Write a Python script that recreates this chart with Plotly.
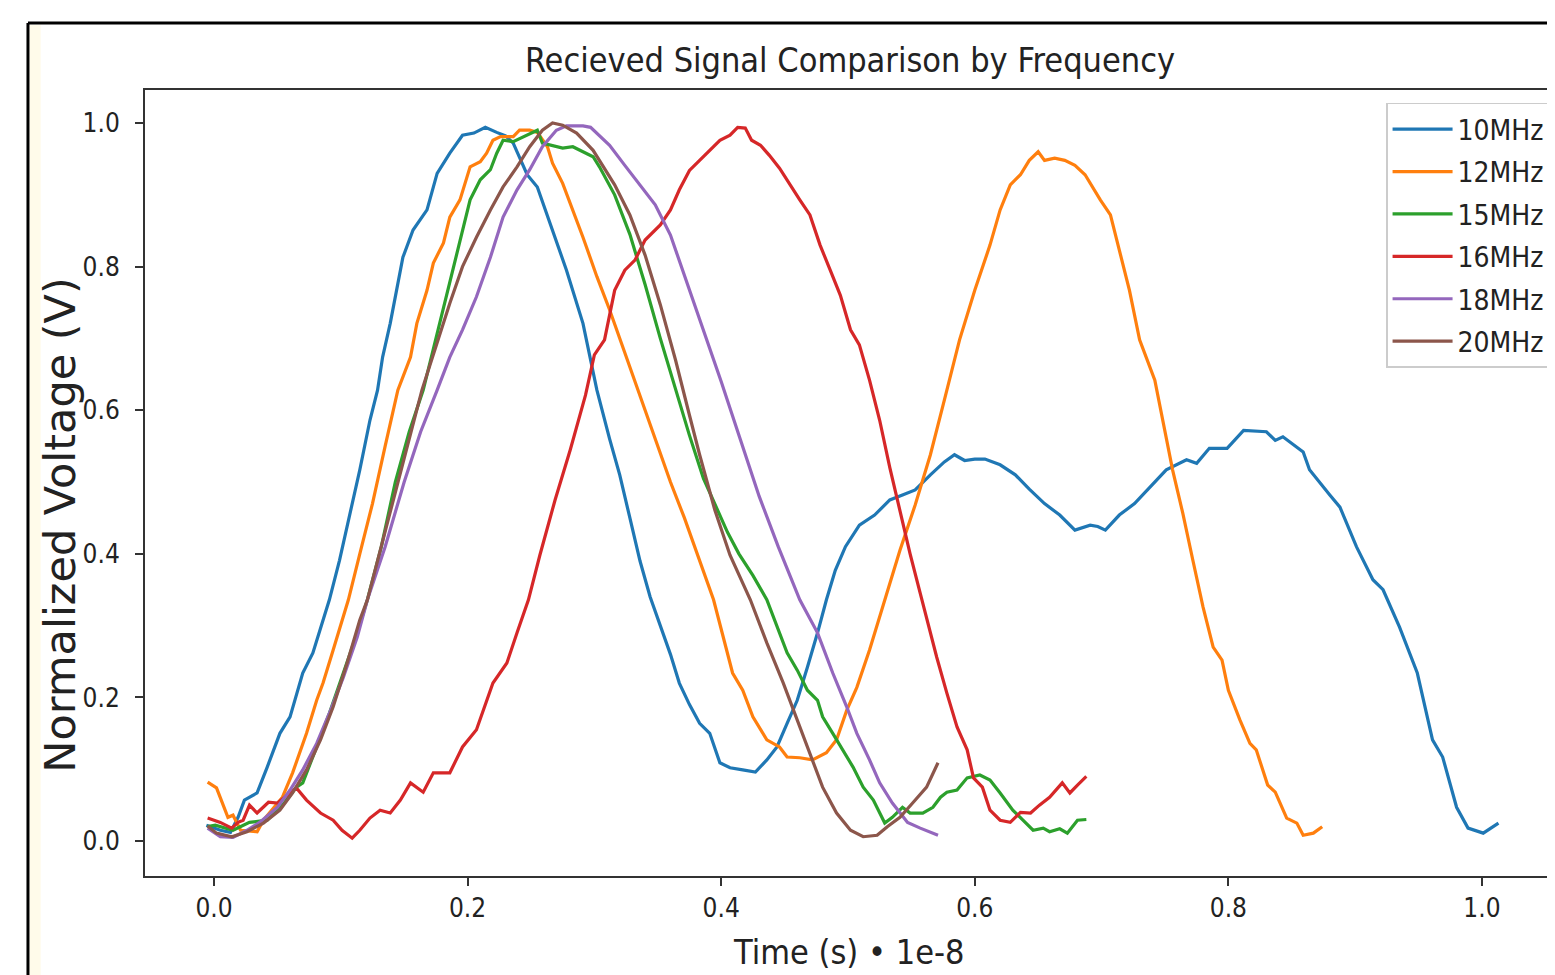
import plotly.graph_objects as go

# Time axis is in units of 1e-8 s, voltage normalised to the peak.
NAMES = ["10MHz", "12MHz", "15MHz", "16MHz", "18MHz", "20MHz"]
COLORS = ["#1f77b4", "#ff7f0e", "#2ca02c", "#d62728", "#9467bd", "#8c564b"]

T_10 = [-0.006, 0.005, 0.013, 0.019, 0.024, 0.034, 0.042, 0.052, 0.060, 0.070,
        0.078, 0.086, 0.091, 0.099, 0.107, 0.115, 0.123, 0.129, 0.133, 0.139,
        0.149, 0.157, 0.168, 0.176, 0.186, 0.196, 0.205, 0.214, 0.223, 0.230,
        0.236, 0.247, 0.255, 0.265, 0.278, 0.291, 0.302, 0.312, 0.320, 0.328,
        0.336, 0.344, 0.352, 0.360, 0.367, 0.375, 0.383, 0.391, 0.399, 0.407,
        0.417, 0.427, 0.436, 0.444, 0.452, 0.460, 0.468, 0.476, 0.483, 0.490,
        0.498, 0.509, 0.521, 0.533, 0.543, 0.553, 0.565, 0.576, 0.584, 0.592,
        0.600, 0.608, 0.620, 0.632, 0.643, 0.655, 0.667, 0.679, 0.691, 0.697,
        0.703, 0.714, 0.726, 0.738, 0.751, 0.767, 0.775, 0.785, 0.799, 0.812,
        0.830, 0.837, 0.843, 0.859, 0.864, 0.880, 0.888, 0.901, 0.914, 0.922,
        0.935, 0.949, 0.961, 0.969, 0.980, 0.989, 1.001, 1.013]
V_10 = [0.022, 0.015, 0.012, 0.033, 0.057, 0.067, 0.103, 0.150, 0.173, 0.234,
        0.262, 0.308, 0.336, 0.391, 0.454, 0.517, 0.586, 0.628, 0.674, 0.721,
        0.813, 0.851, 0.879, 0.930, 0.958, 0.983, 0.986, 0.994, 0.987, 0.982,
        0.972, 0.928, 0.911, 0.861, 0.795, 0.721, 0.628, 0.560, 0.510, 0.450,
        0.390, 0.340, 0.300, 0.260, 0.220, 0.190, 0.164, 0.150, 0.109, 0.102,
        0.099, 0.096, 0.113, 0.131, 0.164, 0.196, 0.242, 0.290, 0.336, 0.377,
        0.410, 0.440, 0.454, 0.475, 0.482, 0.489, 0.510, 0.528, 0.538, 0.530,
        0.532, 0.532, 0.524, 0.510, 0.490, 0.470, 0.454, 0.433, 0.440, 0.438,
        0.433, 0.454, 0.470, 0.492, 0.517, 0.531, 0.526, 0.547, 0.547, 0.572,
        0.570, 0.558, 0.563, 0.542, 0.517, 0.482, 0.465, 0.410, 0.364, 0.350,
        0.298, 0.234, 0.141, 0.117, 0.047, 0.018, 0.011, 0.025]

T_12 = [-0.005, 0.002, 0.011, 0.015, 0.021, 0.034, 0.039, 0.054, 0.062, 0.073,
        0.081, 0.086, 0.094, 0.102, 0.106, 0.115, 0.125, 0.135, 0.145, 0.155,
        0.160, 0.168, 0.173, 0.181, 0.186, 0.194, 0.202, 0.210, 0.215, 0.220,
        0.226, 0.236, 0.241, 0.249, 0.255, 0.263, 0.267, 0.275, 0.283, 0.291,
        0.302, 0.312, 0.324, 0.336, 0.348, 0.360, 0.371, 0.383, 0.394, 0.409,
        0.417, 0.425, 0.436, 0.446, 0.452, 0.462, 0.472, 0.483, 0.491, 0.499,
        0.507, 0.517, 0.529, 0.541, 0.553, 0.565, 0.576, 0.588, 0.600, 0.612,
        0.620, 0.628, 0.636, 0.643, 0.650, 0.655, 0.663, 0.671, 0.679, 0.687,
        0.699, 0.707, 0.714, 0.722, 0.730, 0.742, 0.756, 0.764, 0.772, 0.780,
        0.788, 0.795, 0.800, 0.809, 0.817, 0.822, 0.831, 0.837, 0.846, 0.854,
        0.859, 0.867, 0.874]
V_12 = [0.082, 0.074, 0.033, 0.036, 0.015, 0.013, 0.029, 0.061, 0.095, 0.150,
        0.196, 0.220, 0.266, 0.312, 0.336, 0.400, 0.470, 0.550, 0.628, 0.674,
        0.721, 0.767, 0.805, 0.833, 0.869, 0.893, 0.939, 0.946, 0.958, 0.976,
        0.981, 0.981, 0.990, 0.990, 0.987, 0.967, 0.944, 0.916, 0.879, 0.841,
        0.786, 0.740, 0.680, 0.620, 0.560, 0.500, 0.450, 0.390, 0.336, 0.234,
        0.210, 0.173, 0.141, 0.131, 0.117, 0.116, 0.113, 0.123, 0.141, 0.182,
        0.214, 0.266, 0.336, 0.405, 0.468, 0.538, 0.614, 0.698, 0.767, 0.830,
        0.879, 0.914, 0.928, 0.948, 0.960, 0.948, 0.951, 0.948, 0.941, 0.928,
        0.893, 0.872, 0.823, 0.767, 0.698, 0.642, 0.517, 0.457, 0.391, 0.326,
        0.270, 0.252, 0.210, 0.169, 0.136, 0.127, 0.078, 0.068, 0.032, 0.025,
        0.008, 0.011, 0.020]

T_15 = [-0.005, 0.001, 0.015, 0.028, 0.042, 0.054, 0.065, 0.070, 0.081, 0.091,
        0.102, 0.113, 0.121, 0.132, 0.143, 0.154, 0.165, 0.178, 0.186, 0.194,
        0.202, 0.210, 0.218, 0.223, 0.228, 0.236, 0.244, 0.255, 0.259, 0.265,
        0.275, 0.283, 0.291, 0.299, 0.304, 0.316, 0.328, 0.340, 0.352, 0.364,
        0.375, 0.386, 0.395, 0.405, 0.414, 0.425, 0.436, 0.444, 0.452, 0.460,
        0.468, 0.476, 0.480, 0.488, 0.496, 0.504, 0.512, 0.520, 0.529, 0.535,
        0.543, 0.549, 0.559, 0.567, 0.573, 0.578, 0.586, 0.594, 0.604, 0.612,
        0.620, 0.630, 0.638, 0.646, 0.654, 0.659, 0.667, 0.673, 0.681, 0.688]
V_15 = [0.020, 0.022, 0.015, 0.026, 0.029, 0.050, 0.075, 0.081, 0.131, 0.178,
        0.234, 0.290, 0.336, 0.410, 0.500, 0.570, 0.628, 0.721, 0.777, 0.833,
        0.893, 0.921, 0.935, 0.958, 0.976, 0.974, 0.981, 0.990, 0.972, 0.969,
        0.965, 0.967, 0.960, 0.953, 0.939, 0.900, 0.845, 0.775, 0.700, 0.630,
        0.565, 0.505, 0.470, 0.430, 0.400, 0.370, 0.336, 0.298, 0.262, 0.238,
        0.210, 0.196, 0.173, 0.150, 0.127, 0.103, 0.075, 0.057, 0.025, 0.033,
        0.047, 0.039, 0.039, 0.047, 0.061, 0.068, 0.071, 0.088, 0.092, 0.085,
        0.067, 0.043, 0.029, 0.015, 0.018, 0.013, 0.017, 0.011, 0.029, 0.030]

T_16 = [-0.005, 0.005, 0.014, 0.019, 0.023, 0.028, 0.034, 0.043, 0.050, 0.060,
        0.065, 0.073, 0.084, 0.094, 0.101, 0.109, 0.115, 0.123, 0.131, 0.139,
        0.147, 0.155, 0.165, 0.173, 0.186, 0.196, 0.207, 0.220, 0.231, 0.239,
        0.248, 0.257, 0.269, 0.281, 0.293, 0.300, 0.308, 0.316, 0.324, 0.332,
        0.340, 0.352, 0.360, 0.367, 0.375, 0.383, 0.391, 0.399, 0.407, 0.413,
        0.419, 0.424, 0.431, 0.438, 0.446, 0.454, 0.462, 0.470, 0.478, 0.486,
        0.494, 0.502, 0.509, 0.517, 0.525, 0.533, 0.541, 0.549, 0.557, 0.565,
        0.570, 0.578, 0.586, 0.594, 0.599, 0.606, 0.612, 0.620, 0.628, 0.636,
        0.644, 0.651, 0.659, 0.669, 0.675, 0.681, 0.688]
V_16 = [0.032, 0.026, 0.018, 0.026, 0.029, 0.050, 0.039, 0.054, 0.053, 0.067,
        0.074, 0.057, 0.039, 0.029, 0.015, 0.004, 0.015, 0.032, 0.043, 0.039,
        0.057, 0.081, 0.068, 0.095, 0.095, 0.131, 0.155, 0.220, 0.248, 0.290,
        0.336, 0.398, 0.475, 0.545, 0.621, 0.677, 0.698, 0.767, 0.795, 0.809,
        0.837, 0.858, 0.879, 0.907, 0.934, 0.948, 0.962, 0.976, 0.983, 0.994,
        0.993, 0.976, 0.969, 0.955, 0.937, 0.914, 0.893, 0.872, 0.830, 0.795,
        0.760, 0.712, 0.691, 0.642, 0.586, 0.520, 0.460, 0.400, 0.345, 0.290,
        0.256, 0.206, 0.159, 0.127, 0.088, 0.075, 0.043, 0.029, 0.026, 0.040,
        0.039, 0.050, 0.061, 0.081, 0.067, 0.078, 0.090]

T_18 = [-0.005, 0.005, 0.015, 0.026, 0.036, 0.050, 0.060, 0.070, 0.081, 0.091,
        0.102, 0.113, 0.121, 0.135, 0.150, 0.163, 0.176, 0.186, 0.196, 0.207,
        0.218, 0.228, 0.239, 0.249, 0.259, 0.270, 0.278, 0.291, 0.297, 0.302,
        0.312, 0.324, 0.336, 0.348, 0.360, 0.371, 0.383, 0.400, 0.415, 0.430,
        0.445, 0.462, 0.476, 0.488, 0.499, 0.507, 0.517, 0.525, 0.535, 0.547,
        0.557, 0.571]
V_18 = [0.018, 0.006, 0.005, 0.015, 0.026, 0.047, 0.071, 0.099, 0.136, 0.178,
        0.228, 0.284, 0.336, 0.410, 0.500, 0.570, 0.628, 0.674, 0.712, 0.758,
        0.813, 0.869, 0.907, 0.935, 0.967, 0.990, 0.996, 0.996, 0.994, 0.986,
        0.969, 0.941, 0.914, 0.886, 0.844, 0.788, 0.726, 0.640, 0.560, 0.480,
        0.410, 0.336, 0.290, 0.234, 0.187, 0.150, 0.113, 0.081, 0.053, 0.026,
        0.018, 0.008]

T_20 = [-0.005, 0.002, 0.014, 0.026, 0.039, 0.052, 0.062, 0.073, 0.084, 0.094,
        0.105, 0.115, 0.121, 0.135, 0.150, 0.164, 0.176, 0.186, 0.196, 0.207,
        0.218, 0.228, 0.239, 0.249, 0.259, 0.267, 0.275, 0.286, 0.299, 0.304,
        0.316, 0.328, 0.340, 0.352, 0.364, 0.375, 0.383, 0.395, 0.407, 0.423,
        0.436, 0.449, 0.460, 0.470, 0.480, 0.491, 0.502, 0.512, 0.523, 0.531,
        0.541, 0.551, 0.562, 0.571]
V_20 = [0.021, 0.011, 0.006, 0.013, 0.025, 0.043, 0.067, 0.099, 0.141, 0.187,
        0.248, 0.308, 0.336, 0.430, 0.530, 0.628, 0.694, 0.749, 0.800, 0.841,
        0.879, 0.911, 0.939, 0.967, 0.990, 1.000, 0.997, 0.986, 0.962, 0.948,
        0.914, 0.872, 0.816, 0.747, 0.670, 0.593, 0.538, 0.461, 0.398, 0.336,
        0.276, 0.220, 0.169, 0.123, 0.075, 0.039, 0.015, 0.006, 0.008, 0.020,
        0.033, 0.053, 0.075, 0.109]

TICKS = [0.0, 0.2, 0.4, 0.6, 0.8, 1.0]
TICK_TEXT = ["0.0", "0.2", "0.4", "0.6", "0.8", "1.0"]

FONT_C = "DejaVu Sans Condensed, DejaVu Sans, sans-serif"
FONT_N = "DejaVu Sans, sans-serif"
COR_EIXO = "#333333"
COR_TEXTO = "#222222"

SERIES = list(zip(NAMES, [T_10, T_12, T_15, T_16, T_18, T_20],
                  [V_10, V_12, V_15, V_16, V_18, V_20], COLORS))

fig = go.Figure()
for name, t, v, color in SERIES:
    assert len(t) == len(v), name
    fig.add_trace(go.Scatter(
        x=t, y=v, mode="lines", name=name, legendgroup=name,
        line=dict(color=color, width=3.2),
    ))

# a pagina tem margem de 8 px no body, por isso a figura e 8 px menor
fig.update_layout(
    width=1547,
    height=967,
    margin=dict(l=137, r=0, t=82, b=99),
    paper_bgcolor="white",
    plot_bgcolor="white",
    font=dict(family=FONT_C, color=COR_TEXTO),
    title=dict(
        text="Recieved Signal Comparison by Frequency",
        x=0.5, xref="paper", xanchor="center",
        y=1 - 52 / 967, yref="container", yanchor="middle",
        font=dict(family=FONT_C, size=34, color=COR_TEXTO),
    ),
    showlegend=True,
    legend=dict(
        x=0.9965, xanchor="right",
        y=0.9835, yanchor="top",
        bgcolor="rgba(255,255,255,0.85)",
        bordercolor="#cccccc",
        borderwidth=1.5,
        font=dict(family=FONT_C, size=28, color=COR_TEXTO),
        tracegroupgap=3,
        itemwidth=60,
    ),
    annotations=[
        dict(text="Time (s) \u2022 1e-8", xref="paper", yref="paper",
             x=0.4993, y=-0.0967, xanchor="center", yanchor="middle",
             showarrow=False, font=dict(family=FONT_C, size=34, color=COR_TEXTO)),
        dict(text="Normalized Voltage (V)", xref="paper", yref="paper",
             x=-0.0605, y=0.4466, xanchor="center", yanchor="middle",
             textangle=-90, showarrow=False,
             font=dict(family=FONT_N, size=43, color=COR_TEXTO)),
    ],
    shapes=[
        # moldura da captura de tela (topo e esquerda)
        dict(type="rect", xref="paper", yref="paper",
             x0=-0.082, x1=-0.074, y0=-0.126, y1=1.083,
             fillcolor="#fffbea", line=dict(width=0), layer="below"),
        dict(type="line", xref="paper", yref="paper",
             x0=-0.083, x1=1.0, y0=1.0852, y1=1.0852,
             line=dict(color="black", width=3)),
        dict(type="line", xref="paper", yref="paper",
             x0=-0.083, x1=-0.083, y0=1.0852, y1=-0.13,
             line=dict(color="black", width=3)),
    ],
)

fig.update_xaxes(
    range=[-0.0544, 1.0576],
    tickmode="array", tickvals=TICKS, ticktext=TICK_TEXT,
    ticks="outside", ticklen=8, tickwidth=2, tickcolor=COR_EIXO,
    showline=True, linecolor=COR_EIXO, linewidth=2, mirror=True,
    showgrid=False, zeroline=False,
    tickfont=dict(family=FONT_C, size=26, color=COR_TEXTO),
)

fig.update_yaxes(
    range=[-0.0487, 1.046],
    tickmode="array", tickvals=TICKS, ticktext=TICK_TEXT,
    ticks="outside", ticklen=8, tickwidth=2, tickcolor=COR_EIXO,
    showline=True, linecolor=COR_EIXO, linewidth=2, mirror=False,
    showgrid=False, zeroline=False, ticklabelstandoff=10,
    tickfont=dict(family=FONT_C, size=26, color=COR_TEXTO),
)

fig.write_html("out.html")
